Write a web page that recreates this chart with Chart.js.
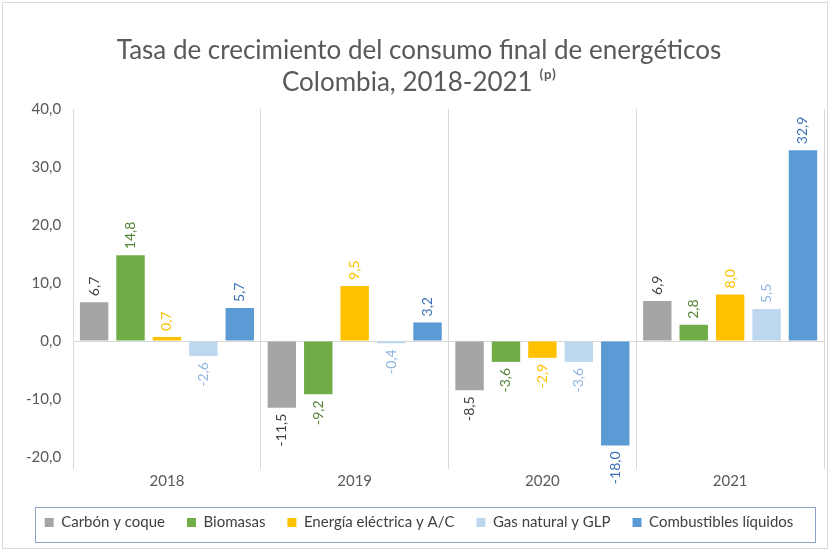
<!DOCTYPE html>
<html>
<head>
<meta charset="utf-8">
<script src="https://cdn.jsdelivr.net/npm/chart.js@4.4.0/dist/chart.umd.min.js"></script>
<style>
  html, body { margin: 0; padding: 0; background: #fff; }
  #wrap { width: 830px; height: 552px; }
</style>
</head>
<body>
<div id="wrap"><canvas id="chart" width="830" height="552"></canvas></div>
<script>
// chart data
const years = ["2018", "2019", "2020", "2021"];
const carbon = [6.7, -11.5, -8.5, 6.9];
const biomasas = [14.8, -9.2, -3.6, 2.8];
const energia = [0.7, 9.5, -2.9, 8.0];
const gas = [-2.6, -0.4, -3.6, 5.5];
const combustibles = [5.7, 3.2, -18.0, 32.9];

const FONT = "Lato, 'Open Sans', sans-serif";
const fmt = v => v.toFixed(1).replace('.', ',');

// rotated value labels above/below each bar
const barLabels = {
    id: 'barLabels',
    afterDatasetsDraw(chart) {
        const ctx = chart.ctx;
        ctx.save();
        ctx.font = "14px " + FONT;
        chart.data.datasets.forEach((ds, i) => {
            const meta = chart.getDatasetMeta(i);
            meta.data.forEach((bar, j) => {
                const v = ds.data[j];
                const pos = v >= 0;
                const y = pos ? bar.y - 6 : bar.y + 6;
                ctx.save();
                ctx.translate(bar.x, y);
                ctx.rotate(-Math.PI / 2);
                ctx.fillStyle = ds.labelColor;
                ctx.textBaseline = 'middle';
                ctx.textAlign = pos ? 'left' : 'right';
                ctx.fillText(fmt(v), 0, 0);
                ctx.restore();
            });
        });
        ctx.restore();
    }
};

// legend box and outer frame
const frames = {
    id: 'frames',
    afterDraw(chart) {
        const ctx = chart.ctx;
        const lg = chart.legend;
        const cy = lg.legendHitBoxes.length ? lg.legendHitBoxes[0].top + lg.legendHitBoxes[0].height / 2 : lg.top + lg.height / 2;
        ctx.save();
        ctx.strokeStyle = '#d9d9d9';
        ctx.lineWidth = 1;
        ctx.strokeRect(2.5, 2.5, 825, 546);
        ctx.strokeStyle = '#8ea2c6';
        ctx.strokeRect(35.5, Math.round(cy - 16) + 0.5, 780, 35);
        ctx.restore();
    }
};

const mk = (label, data, color, labelColor) => ({
    label, data, backgroundColor: color, labelColor,
    categoryPercentage: 0.97, barPercentage: 0.78
});

new Chart(document.getElementById('chart'), {
    type: 'bar',
    data: {
        labels: years,
        datasets: [
            mk("Carbón y coque", carbon, '#a5a5a5', '#404040'),
            mk("Biomasas", biomasas, '#70ad47', '#548235'),
            mk("Energía eléctrica y A/C", energia, '#ffc000', '#ffc000'),
            mk("Gas natural y GLP", gas, '#bdd7ee', '#8fb4e0'),
            mk("Combustibles líquidos", combustibles, '#5b9bd5', '#3a70b8')
        ]
    },
    options: {
        responsive: false,
        animation: false,
        layout: { padding: { left: 14, right: 6, top: 34, bottom: 12 } },
        plugins: {
            title: {
                display: true,
                text: ["Tasa de crecimiento del consumo final de energéticos", "Colombia, 2018-2021 ⁽ᵖ⁾"],
                color: '#595959',
                font: { family: FONT, size: 26, weight: 'normal', lineHeight: 1.25 },
                padding: { top: 0, bottom: 10 }
            },
            legend: {
                position: 'bottom',
                labels: {
                    color: '#404040',
                    font: { family: FONT, size: 15 },
                    boxWidth: 9,
                    boxHeight: 9,
                    padding: 22
                }
            },
            tooltip: { enabled: false }
        },
        scales: {
            x: {
                grid: { offset: true, color: '#d9d9d9', drawTicks: true, tickLength: 12 },
                border: { display: false },
                ticks: { color: '#595959', font: { family: FONT, size: 15 } }
            },
            y: {
                min: -20,
                max: 40,
                ticks: {
                    stepSize: 10,
                    color: '#595959',
                    font: { family: FONT, size: 15 },
                    callback: v => fmt(v),
                    padding: 12
                },
                grid: {
                    drawTicks: false,
                    color: c => c.tick && c.tick.value === 0 ? '#d9d9d9' : 'rgba(0,0,0,0)'
                },
                border: { display: false }
            }
        }
    },
    plugins: [barLabels, frames]
});
</script>
</body>
</html>
